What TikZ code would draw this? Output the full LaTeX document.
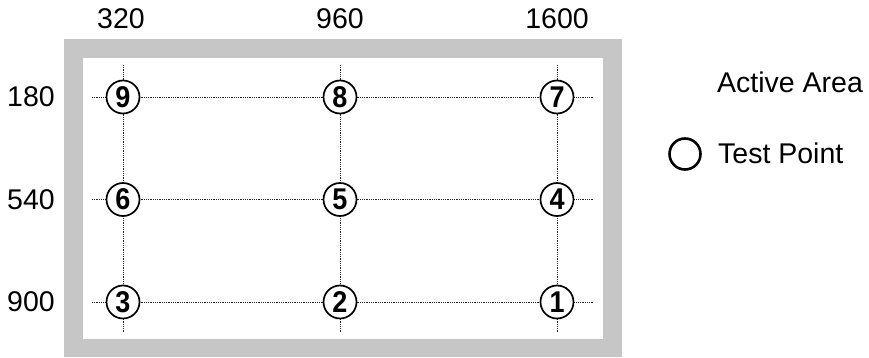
\documentclass[tikz,border=0pt]{standalone}
\usepackage{fontspec}
\setmainfont{Liberation Sans}
\usepackage{graphicx}
\begin{document}
\begin{tikzpicture}[x=1pt,y=-1pt,
  lbl/.style={font=\fontsize{28.5}{28.5}\selectfont, inner sep=0pt},
  grid/.style={densely dotted, line width=0.8pt, black!85},
  tp/.style={circle, draw, line width=1.7pt, minimum size=33pt, inner sep=0pt, fill=white,
    font=\fontsize{30}{30}\selectfont\bfseries},
  legc/.style={circle, draw, line width=2.6pt, minimum size=31pt, inner sep=0pt}]
\useasboundingbox (0,0) rectangle (869,358);
% frame
\fill[gray!45] (64,39) rectangle (622,357);
\fill[white] (83,58) rectangle (603,339);
% grid lines
\foreach \x/\n in {123/a,340/b,557/c}{
  \coordinate (vt\n) at (\x,65);
  \coordinate (vb\n) at (\x,332);
  \draw[grid] (vt\n) -- (vb\n);
}
\foreach \y/\n in {97/a,199.5/b,302/c}{
  \coordinate (hl\n) at (92,\y);
  \coordinate (hr\n) at (594,\y);
  \draw[grid] (hl\n) -- (hr\n);
}
% test points
\newcommand{\tpd}[1]{\scalebox{0.9}[1]{#1}}
\node[tp] (p9) at (123,97) {\tpd{9}};
\node[tp] (p8) at (340,97) {\tpd{8}};
\node[tp] (p7) at (557,97) {\tpd{7}};
\node[tp] (p6) at (123,199.5) {\tpd{6}};
\node[tp] (p5) at (340,199.5) {\tpd{5}};
\node[tp] (p4) at (557,199.5) {\tpd{4}};
\node[tp] (p3) at (123,302) {\tpd{3}};
\node[tp] (p2) at (340,302) {\tpd{2}};
\node[tp] (p1) at (557,302) {\tpd{1}};
% axis labels
\node[lbl] (c320) at (121,19) {320};
\node[lbl] (c960) at (340,19) {960};
\node[lbl] (c1600) at (557,19) {1600};
\node[lbl, anchor=east] (r180) at (55,97) {180};
\node[lbl, anchor=east] (r540) at (55,199.5) {540};
\node[lbl, anchor=east] (r900) at (55,302) {900};
% legend
\node[lbl, anchor=west] (la) at (717,82) {Active Area};
\node[legc] (lc) at (685,154) {};
\node[lbl, anchor=west] (lt) at (718,153) {Test Point};
\end{tikzpicture}
\end{document}
